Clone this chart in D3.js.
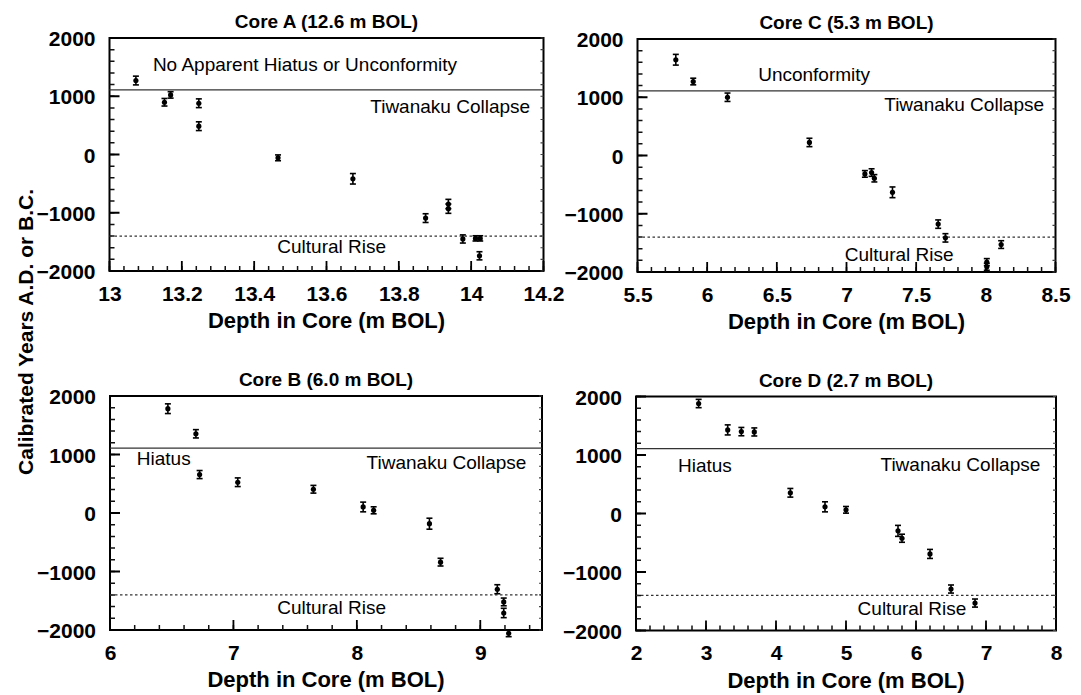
<!DOCTYPE html>
<html>
<head>
<meta charset="utf-8">
<script src="https://cdn.jsdelivr.net/npm/d3@7"></script>
<style>
  body { margin: 0; background: #fff; }
  svg text { font-family: "Liberation Sans", Arial, Helvetica, sans-serif; fill: #000; }
</style>
</head>
<body>
<div id="chart"></div>
<script>
// ---- data (depth in m BOL, calibrated year, 1-sigma half width) ----
var coreA_depth = [13.073, 13.152, 13.169, 13.247, 13.247, 13.466, 13.673, 13.874, 13.937, 13.937, 13.977, 14.012, 14.025, 14.023];
var coreA_age   = [1270, 897, 1023, 880, 486, -57, -417, -1092, -850, -930, -1450, -1440, -1440, -1739];
var coreA_err   = [75, 65, 55, 75, 75, 50, 90, 75, 80, 80, 70, 45, 45, 70];

var coreC_depth = [5.775, 5.9, 6.146, 6.734, 7.132, 7.18, 7.2, 7.33, 7.658, 7.71, 8.007, 8.007, 8.11];
var coreC_age   = [1644, 1270, 1000, 224, -316, -293, -391, -632, -1178, -1414, -1830, -1910, -1529];
var coreC_err   = [92, 57, 72, 72, 57, 65, 63, 92, 72, 72, 60, 60, 66];

var coreB_depth = [6.469, 6.696, 6.726, 7.035, 7.648, 8.051, 8.136, 8.588, 8.678, 9.138, 9.19, 9.19, 9.23];
var coreB_age   = [1783, 1354, 657, 526, 406, 103, 46, -183, -840, -1303, -1520, -1709, -2057];
var coreB_err   = [83, 71, 69, 74, 66, 83, 60, 94, 66, 77, 66, 80, 57];

var coreD_depth = [2.895, 3.31, 3.505, 3.69, 4.205, 4.7, 5.0, 5.743, 5.8, 6.2, 6.5, 6.843];
var coreD_age   = [1880, 1429, 1400, 1394, 354, 114, 63, -297, -423, -691, -1291, -1531];
var coreD_err   = [71, 86, 71, 69, 74, 86, 57, 94, 69, 77, 69, 69];

var coreA_xticks = [13, 13.2, 13.4, 13.6, 13.8, 14, 14.2];
var coreC_xticks = [5.5, 6, 6.5, 7, 7.5, 8, 8.5];
var coreB_xticks = [6, 7, 8, 9];
var coreD_xticks = [2, 3, 4, 5, 6, 7, 8];
var yTicks = [2000, 1000, 0, -1000, -2000];

var tiwanakuCollapse = 1110;
var culturalRise = -1400;

// ---- layout ----
var W = 1081, H = 695;
var svg = d3.select("#chart").append("svg").attr("width", W).attr("height", H);

var panels = [
  { title: "Core A (12.6 m BOL)", depth: coreA_depth, age: coreA_age, err: coreA_err,
    xdom: [13, 14.2], xticks: coreA_xticks, minor: 0.04,
    box: { x: 109.5, y: 38, w: 434, h: 233 },
    notes: [
      { t: "No Apparent Hiatus or Unconformity", d: 13.12, v: 1437, a: "start" },
      { t: "Tiwanaku Collapse", d: 14.163, v: 711, a: "end" },
      { t: "Cultural Rise", d: 13.464, v: -1693, a: "start" }
    ] },
  { title: "Core C (5.3 m BOL)", depth: coreC_depth, age: coreC_age, err: coreC_err,
    xdom: [5.5, 8.5], xticks: coreC_xticks, minor: 0.1,
    box: { x: 637.5, y: 39, w: 418, h: 233 },
    notes: [
      { t: "Unconformity", d: 6.366, v: 1276, a: "start" },
      { t: "Tiwanaku Collapse", d: 8.418, v: 759, a: "end" },
      { t: "Cultural Rise", d: 6.988, v: -1810, a: "start" }
    ] },
  { title: "Core B (6.0 m BOL)", depth: coreB_depth, age: coreB_age, err: coreB_err,
    xdom: [6, 9.5], xticks: coreB_xticks, minor: 0.2,
    box: { x: 110, y: 396, w: 432, h: 234 },
    notes: [
      { t: "Hiatus", d: 6.217, v: 818, a: "start" },
      { t: "Tiwanaku Collapse", d: 9.374, v: 755, a: "end" },
      { t: "Cultural Rise", d: 7.355, v: -1732, a: "start" }
    ] },
  { title: "Core D (2.7 m BOL)", depth: coreD_depth, age: coreD_age, err: coreD_err,
    xdom: [2, 8], xticks: coreD_xticks, minor: 0.2,
    box: { x: 636, y: 396.5, w: 420, h: 234 },
    notes: [
      { t: "Hiatus", d: 2.6, v: 713, a: "start" },
      { t: "Tiwanaku Collapse", d: 7.776, v: 725, a: "end" },
      { t: "Cultural Rise", d: 5.166, v: -1732, a: "start" }
    ] }
];

panels.forEach(function (p) { drawPanel(p); });

// shared y title
svg.append("text")
  .attr("transform", "translate(33,332) rotate(-90)")
  .attr("text-anchor", "middle")
  .style("font-size", "21px").style("font-weight", "bold")
  .text("Calibrated Years A.D. or B.C.");

function drawPanel(p) {
  var b = p.box;
  var g = svg.append("g").attr("transform", "translate(" + b.x + "," + b.y + ")");
  var x = d3.scaleLinear().domain(p.xdom).range([0, b.w]);
  var y = d3.scaleLinear().domain([-2000, 2000]).range([b.h, 0]);

  var nMinor = Math.floor((p.xdom[1] - p.xdom[0]) / p.minor + 1e-6);
  var xMinor = d3.range(nMinor + 1).map(function (i) { return p.xdom[0] + i * p.minor; });
  var yMinor = d3.range(21).map(function (i) { return -2000 + i * 200; });
  var fmt = function (d) { return String(+d.toFixed(2)); };

  g.append("rect").attr("width", b.w).attr("height", b.h)
    .attr("fill", "none").attr("stroke", "#000").attr("stroke-width", 2);

  // inward ticks, one path per set
  var tickPath = function (vals, isX, len, edge) {
    return vals.map(function (d) {
      return isX ? "M" + x(d) + "," + edge + "v" + (-len)
                 : "M" + edge + "," + y(d) + "h" + len;
    }).join("");
  };
  g.append("path").attr("d", tickPath(xMinor, true, 5, b.h))
    .attr("fill", "none").attr("stroke", "#111").attr("stroke-width", 1.5);
  g.append("path").attr("d", tickPath(p.xticks, true, 10, b.h))
    .attr("fill", "none").attr("stroke", "#000").attr("stroke-width", 1.8);
  g.append("path").attr("d", tickPath(yMinor, false, 5, 0))
    .attr("fill", "none").attr("stroke", "#111").attr("stroke-width", 1.5);
  g.append("path").attr("d", tickPath(yTicks, false, 10, 0))
    .attr("fill", "none").attr("stroke", "#000").attr("stroke-width", 1.8);
  g.append("path").attr("d", tickPath(yMinor, false, -3, b.w))
    .attr("fill", "none").attr("stroke", "#444").attr("stroke-width", 1.1);

  // tick labels through d3 axes
  var xa = g.append("g").attr("class", "ax").attr("transform", "translate(0," + b.h + ")")
    .call(d3.axisBottom(x).tickValues(p.xticks).tickSize(0).tickPadding(15).tickFormat(fmt));
  var ya = g.append("g").attr("class", "ax")
    .call(d3.axisLeft(y).tickValues(yTicks).tickSize(0).tickPadding(14).tickFormat(d3.format("d")));
  xa.select(".domain").remove();
  ya.select(".domain").remove();
  g.selectAll(".ax text").style("font-size", "21px").style("font-weight", "bold")
    .style("font-family", "'Liberation Sans', Arial, sans-serif").attr("fill", "#000");
  ya.selectAll("text").attr("dy", "0.36em");

  // reference lines
  g.append("line").attr("x1", 0).attr("x2", b.w)
    .attr("y1", y(tiwanakuCollapse)).attr("y2", y(tiwanakuCollapse))
    .attr("stroke", "#333").attr("stroke-width", 1.3);
  g.append("line").attr("x1", 0).attr("x2", b.w)
    .attr("y1", y(culturalRise)).attr("y2", y(culturalRise))
    .attr("stroke", "#333").attr("stroke-width", 1.2).attr("stroke-dasharray", "2.5,2.5");

  // annotations
  g.selectAll("text.note").data(p.notes).enter().append("text")
    .attr("class", "note")
    .attr("x", function (d) { return x(d.d); })
    .attr("y", function (d) { return y(d.v); })
    .attr("text-anchor", function (d) { return d.a; })
    .style("font-size", "19px")
    .text(function (d) { return d.t; });

  g.append("text").attr("x", b.w / 2).attr("y", -10)
    .attr("text-anchor", "middle")
    .style("font-size", "19px").style("font-weight", "bold")
    .text(p.title);

  g.append("text").attr("x", b.w / 2).attr("y", b.h + 57)
    .attr("text-anchor", "middle")
    .style("font-size", "22px").style("font-weight", "bold")
    .text("Depth in Core (m BOL)");

  // error bars
  var pts = p.depth.map(function (d, i) { return { d: d, v: p.age[i], e: p.err[i] }; });
  var eb = g.selectAll("g.pt").data(pts).enter().append("g").attr("class", "pt");
  eb.append("line")
    .attr("x1", function (d) { return x(d.d); }).attr("x2", function (d) { return x(d.d); })
    .attr("y1", function (d) { return y(d.v - d.e); }).attr("y2", function (d) { return y(d.v + d.e); })
    .attr("stroke", "#000").attr("stroke-width", 1.6);
  [-1, 1].forEach(function (s) {
    eb.append("line")
      .attr("x1", function (d) { return x(d.d) - 3; }).attr("x2", function (d) { return x(d.d) + 3; })
      .attr("y1", function (d) { return y(d.v + s * d.e); }).attr("y2", function (d) { return y(d.v + s * d.e); })
      .attr("stroke", "#000").attr("stroke-width", 1.6);
  });
  eb.append("circle")
    .attr("cx", function (d) { return x(d.d); })
    .attr("cy", function (d) { return y(d.v); })
    .attr("r", 2.6).attr("fill", "#000");
}
</script>
</body>
</html>
